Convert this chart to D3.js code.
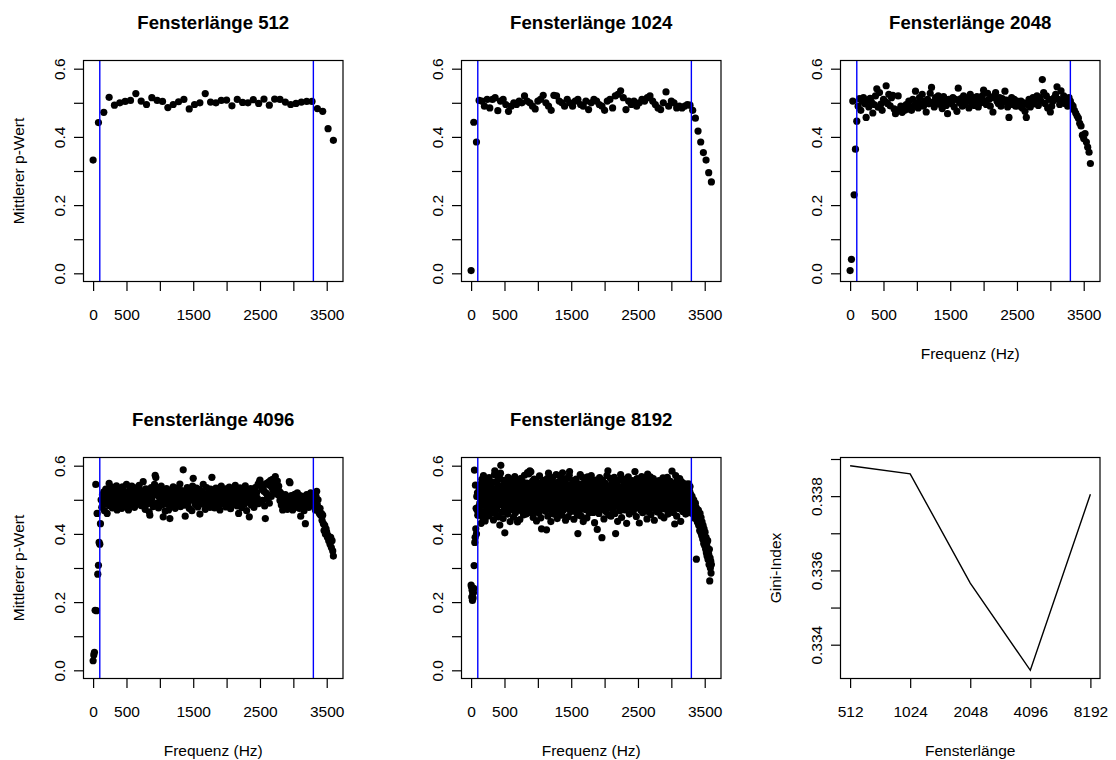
<!DOCTYPE html>
<html>
<head>
<meta charset="utf-8">
<script src="https://cdn.jsdelivr.net/npm/d3@7"></script>
<style>
  body { margin: 0; background: #fff; }
  svg { display: block; }
</style>
</head>
<body>
<svg id="chart" width="1116" height="760"></svg>
<script>
// ---- data -------------------------------------------------------------
// FFT bin k of a window of length N sits at k * sampleRate / N Hz.
const sampleRate = 40960;
const freqRange = [0, 3600];
const bandLimits = [100, 3300];           // pass band edges (Hz)
const windowLengths = [512, 1024, 2048, 4096, 8192];

// mean p-value per frequency bin
const pValues512 = [
  0.332, 0.442, 0.472, 0.516, 0.493, 0.500, 0.504, 0.507, 0.527, 0.505,
  0.495, 0.515, 0.507, 0.504, 0.486, 0.495, 0.503, 0.510, 0.482, 0.495,
  0.500, 0.527, 0.502, 0.500, 0.507, 0.508, 0.491, 0.510, 0.501, 0.500,
  0.509, 0.498, 0.511, 0.493, 0.511, 0.510, 0.502, 0.495, 0.498, 0.502,
  0.504, 0.504, 0.483, 0.475, 0.424, 0.390
];

const pValues1024 = [
  0.008, 0.443, 0.385, 0.507,
  0.505, 0.490, 0.510, 0.485, 0.510, 0.515, 0.477, 0.505, 0.510, 0.495,
  0.475, 0.490, 0.500, 0.495, 0.505, 0.500, 0.520, 0.505, 0.500, 0.490,
  0.482, 0.505, 0.510, 0.522, 0.500, 0.490, 0.478, 0.522, 0.520, 0.505,
  0.500, 0.490, 0.510, 0.500, 0.490, 0.505, 0.510, 0.495, 0.490, 0.505,
  0.480, 0.500, 0.510, 0.505, 0.495, 0.490, 0.478, 0.505, 0.510, 0.485,
  0.520, 0.525, 0.535, 0.515, 0.480, 0.505, 0.495, 0.505, 0.490, 0.500,
  0.510, 0.505, 0.515, 0.520, 0.505, 0.495, 0.485, 0.480, 0.500, 0.532,
  0.490, 0.505, 0.500, 0.485, 0.490, 0.485, 0.490, 0.495, 0.493,
  0.478, 0.455, 0.417, 0.385, 0.354, 0.332, 0.295, 0.268
];

const pValues2048 = [
  0.008, 0.041, 0.505, 0.230, 0.364, 0.446,
  0.490, 0.512, 0.478, 0.505, 0.515, 0.497, 0.457, 0.508, 0.488, 0.513,
  0.502, 0.470, 0.495, 0.520, 0.541, 0.487, 0.530, 0.496, 0.478, 0.510,
  0.505, 0.550, 0.498, 0.525, 0.491, 0.515, 0.522, 0.482, 0.468, 0.475,
  0.520, 0.480, 0.490, 0.472, 0.485, 0.478, 0.495, 0.482, 0.505, 0.488,
  0.478, 0.510, 0.492, 0.534, 0.500, 0.485, 0.515, 0.497, 0.525, 0.490,
  0.505, 0.473, 0.510, 0.497, 0.528, 0.545, 0.502, 0.488, 0.515, 0.507,
  0.520, 0.496, 0.510, 0.483, 0.518, 0.502, 0.492, 0.468, 0.510, 0.505,
  0.497, 0.515, 0.488, 0.510, 0.475, 0.543, 0.500, 0.512, 0.490, 0.520,
  0.495, 0.505, 0.510, 0.485, 0.525, 0.498, 0.515, 0.492, 0.505, 0.518,
  0.488, 0.510, 0.500, 0.520, 0.537, 0.505, 0.495, 0.528, 0.510, 0.490,
  0.515, 0.473, 0.520, 0.530, 0.505, 0.498, 0.515, 0.490, 0.512, 0.502,
  0.534, 0.508, 0.488, 0.457, 0.500, 0.515, 0.495, 0.510, 0.490, 0.505,
  0.498, 0.490, 0.505, 0.485, 0.500, 0.475, 0.457, 0.495, 0.510, 0.488,
  0.505, 0.515, 0.497, 0.510, 0.520, 0.492, 0.515, 0.505, 0.568, 0.530,
  0.498, 0.520, 0.485, 0.510, 0.473, 0.490, 0.505, 0.515, 0.525, 0.547,
  0.510, 0.495, 0.535, 0.505, 0.520, 0.498, 0.512, 0.490, 0.515,
  0.505, 0.495, 0.490, 0.478, 0.470, 0.462, 0.455, 0.440, 0.432, 0.405,
  0.395, 0.410, 0.385, 0.370, 0.355, 0.322
];

const pValues4096 = [
  0.028, 0.045, 0.053, 0.176, 0.545, 0.175, 0.460, 0.282, 0.308, 0.375, 0.370, 0.430,
  0.500, 0.478, 0.515, 0.492, 0.523, 0.468, 0.505, 0.531, 0.487, 0.460,
  0.510, 0.495, 0.548, 0.482, 0.520, 0.503, 0.537, 0.476, 0.512, 0.494,
  0.527, 0.488, 0.506, 0.541, 0.470, 0.515, 0.498, 0.532, 0.484, 0.520,
  0.500, 0.475, 0.538, 0.509, 0.490, 0.525, 0.515, 0.481, 0.545, 0.502,
  0.518, 0.470, 0.496, 0.530, 0.485, 0.512, 0.540, 0.493, 0.521, 0.505,
  0.478, 0.535, 0.500, 0.516, 0.489, 0.528, 0.507, 0.542, 0.495, 0.519,
  0.483, 0.510, 0.526, 0.553, 0.497, 0.514, 0.472, 0.532, 0.502, 0.488,
  0.524, 0.510, 0.465, 0.455, 0.493, 0.536, 0.503, 0.519, 0.480, 0.527,
  0.545, 0.572, 0.565, 0.515, 0.490, 0.531, 0.476, 0.508, 0.522, 0.494,
  0.540, 0.484, 0.513, 0.450, 0.500, 0.525, 0.467, 0.511, 0.533, 0.488,
  0.519, 0.470, 0.504, 0.445, 0.497, 0.529, 0.482, 0.515, 0.538, 0.492,
  0.510, 0.475, 0.523, 0.505, 0.487, 0.534, 0.499, 0.517, 0.546, 0.480,
  0.512, 0.527, 0.495, 0.588, 0.508, 0.484, 0.452, 0.521, 0.500, 0.536,
  0.490, 0.514, 0.475, 0.529, 0.505, 0.518, 0.468, 0.540, 0.563, 0.497,
  0.522, 0.486, 0.511, 0.534, 0.500, 0.479, 0.516, 0.530, 0.458, 0.506,
  0.488, 0.525, 0.510, 0.545, 0.492, 0.517, 0.472, 0.503, 0.536, 0.485,
  0.520, 0.497, 0.514, 0.478, 0.531, 0.505, 0.566, 0.490, 0.524, 0.508,
  0.476, 0.517, 0.534, 0.495, 0.512, 0.482, 0.528, 0.503, 0.470, 0.519,
  0.540, 0.498, 0.511, 0.487, 0.525, 0.506, 0.532, 0.479, 0.515, 0.500,
  0.523, 0.490, 0.537, 0.508, 0.474, 0.520, 0.495, 0.513, 0.529, 0.486,
  0.506, 0.542, 0.497, 0.518, 0.482, 0.527, 0.460, 0.511, 0.535, 0.493,
  0.515, 0.477, 0.530, 0.502, 0.520, 0.488, 0.541, 0.505, 0.468, 0.514,
  0.496, 0.525, 0.450, 0.509, 0.533, 0.485, 0.518, 0.500, 0.527, 0.478,
  0.512, 0.536, 0.494, 0.521, 0.505, 0.545, 0.489, 0.552, 0.558, 0.548,
  0.540, 0.530, 0.498, 0.535, 0.525, 0.482, 0.445, 0.520, 0.548, 0.505,
  0.515, 0.552, 0.490, 0.542, 0.557, 0.510, 0.535, 0.560, 0.528, 0.550,
  0.520, 0.568, 0.545, 0.530, 0.555, 0.515, 0.540, 0.525, 0.498, 0.520,
  0.485, 0.510, 0.470, 0.495, 0.505, 0.478, 0.515, 0.490, 0.500, 0.472,
  0.508, 0.485, 0.553, 0.550, 0.480, 0.512, 0.495, 0.470, 0.505, 0.488,
  0.516, 0.478, 0.500, 0.492, 0.520, 0.485, 0.507, 0.475, 0.512, 0.452,
  0.495, 0.510, 0.482, 0.502, 0.468, 0.490, 0.430, 0.505, 0.515, 0.488,
  0.500, 0.478, 0.508, 0.493, 0.520, 0.485, 0.498, 0.510, 0.490,
  0.490, 0.500, 0.470, 0.510, 0.525, 0.485, 0.500, 0.465, 0.460, 0.475,
  0.455, 0.460, 0.440, 0.455, 0.430, 0.410, 0.425, 0.400, 0.415, 0.405,
  0.390, 0.395, 0.380, 0.385, 0.370, 0.390, 0.360, 0.380, 0.350, 0.335
];

const pValues8192 = [
  0.250, 0.245, 0.215, 0.235, 0.205, 0.225, 0.212, 0.228, 0.240, 0.307,
  0.587, 0.375, 0.390, 0.543, 0.415, 0.475, 0.400, 0.510, 0.470, 0.520, 0.455,
  0.478, 0.523, 0.455, 0.510, 0.536, 0.490, 0.468, 0.545, 0.502, 0.431, 0.517, 0.560, 0.485, 0.528, 0.447, 0.505, 0.571, 0.492, 0.463, 0.532,
  0.510, 0.438, 0.548, 0.497, 0.522, 0.471, 0.556, 0.489, 0.515, 0.452, 0.538, 0.503, 0.476, 0.565, 0.494, 0.527, 0.459, 0.512, 0.544, 0.481,
  0.500, 0.535, 0.466, 0.518, 0.552, 0.487, 0.441, 0.526, 0.509, 0.574, 0.585, 0.495, 0.460, 0.531, 0.513, 0.472, 0.549, 0.504, 0.482, 0.558,
  0.519, 0.450, 0.537, 0.491, 0.565, 0.426, 0.508, 0.578, 0.601, 0.486, 0.523, 0.464, 0.541, 0.498, 0.515, 0.445, 0.530, 0.557, 0.479, 0.511,
  0.403, 0.526, 0.488, 0.547, 0.469, 0.512, 0.535, 0.493, 0.458, 0.521, 0.566, 0.501, 0.476, 0.539, 0.485, 0.552, 0.436, 0.517, 0.499, 0.528,
  0.470, 0.543, 0.506, 0.482, 0.561, 0.515, 0.449, 0.533, 0.490, 0.524, 0.568, 0.497, 0.462, 0.514, 0.548, 0.478, 0.507, 0.540, 0.435, 0.520,
  0.495, 0.558, 0.473, 0.530, 0.509, 0.442, 0.546, 0.487, 0.522, 0.563, 0.500, 0.467, 0.536, 0.481, 0.518, 0.551, 0.456, 0.527, 0.494, 0.572,
  0.512, 0.478, 0.539, 0.503, 0.458, 0.524, 0.549, 0.486, 0.580, 0.514, 0.470, 0.532, 0.576, 0.497, 0.541, 0.585, 0.463, 0.520, 0.582, 0.506,
  0.535, 0.476, 0.513, 0.555, 0.489, 0.448, 0.527, 0.502, 0.561, 0.483, 0.518, 0.466, 0.544, 0.497, 0.530, 0.438, 0.511, 0.552, 0.479, 0.525,
  0.492, 0.538, 0.461, 0.516, 0.570, 0.485, 0.529, 0.503, 0.447, 0.545, 0.415, 0.520, 0.496, 0.534, 0.474, 0.557, 0.508, 0.482, 0.540, 0.499,
  0.523, 0.467, 0.549, 0.510, 0.487, 0.412, 0.531, 0.562, 0.495, 0.452, 0.517, 0.578, 0.484, 0.526, 0.500, 0.543, 0.471, 0.515, 0.436, 0.532,
  0.506, 0.550, 0.479, 0.521, 0.565, 0.493, 0.458, 0.537, 0.512, 0.483, 0.548, 0.502, 0.469, 0.529, 0.574, 0.489, 0.516, 0.445, 0.540, 0.498,
  0.527, 0.475, 0.553, 0.508, 0.461, 0.533, 0.493, 0.568, 0.518, 0.480, 0.542, 0.455, 0.514, 0.579, 0.497, 0.525, 0.470, 0.536, 0.504, 0.559,
  0.486, 0.521, 0.440, 0.547, 0.509, 0.476, 0.532, 0.563, 0.495, 0.518, 0.451, 0.539, 0.503, 0.572, 0.583, 0.488, 0.524, 0.466, 0.511, 0.545,
  0.497, 0.535, 0.472, 0.519, 0.556, 0.483, 0.528, 0.443, 0.506, 0.549, 0.490, 0.532, 0.465, 0.514, 0.561, 0.501, 0.477, 0.538, 0.455, 0.401,
  0.522, 0.489, 0.546, 0.507, 0.468, 0.531, 0.574, 0.496, 0.517, 0.452, 0.540, 0.483, 0.525, 0.566, 0.500, 0.436, 0.513, 0.548, 0.479, 0.528,
  0.493, 0.555, 0.471, 0.519, 0.538, 0.486, 0.447, 0.532, 0.567, 0.504, 0.478, 0.523, 0.550, 0.462, 0.515, 0.497, 0.541, 0.485, 0.527, 0.571,
  0.508, 0.475, 0.536, 0.491, 0.555, 0.463, 0.520, 0.543, 0.482, 0.433, 0.511, 0.558, 0.495, 0.529, 0.469, 0.546, 0.502, 0.413, 0.524, 0.488,
  0.539, 0.498, 0.460, 0.527, 0.565, 0.484, 0.517, 0.549, 0.476, 0.505, 0.530, 0.389, 0.494, 0.558, 0.472, 0.521, 0.506, 0.444, 0.537, 0.511,
  0.482, 0.548, 0.519, 0.466, 0.534, 0.500, 0.571, 0.488, 0.525, 0.585, 0.493, 0.456, 0.541, 0.512, 0.477, 0.529, 0.563, 0.497, 0.452, 0.518,
  0.535, 0.490, 0.553, 0.471, 0.508, 0.544, 0.483, 0.522, 0.566, 0.497, 0.460, 0.531, 0.401, 0.514, 0.548, 0.486, 0.527, 0.505, 0.437, 0.539,
  0.495, 0.557, 0.478, 0.521, 0.503, 0.468, 0.536, 0.574, 0.490, 0.515, 0.448, 0.529, 0.559, 0.484, 0.510, 0.542, 0.475, 0.523, 0.498, 0.561,
  0.512, 0.470, 0.538, 0.494, 0.551, 0.431, 0.519, 0.487, 0.546, 0.505, 0.567, 0.479, 0.526, 0.458, 0.533, 0.501, 0.549, 0.488, 0.515, 0.542,
  0.473, 0.520, 0.556, 0.497, 0.534, 0.465, 0.511, 0.544, 0.485, 0.529, 0.583, 0.502, 0.476, 0.538, 0.451, 0.518, 0.562, 0.491, 0.525, 0.507,
  0.544, 0.481, 0.516, 0.432, 0.535, 0.498, 0.553, 0.470, 0.523, 0.509, 0.568, 0.487, 0.530, 0.462, 0.513, 0.547, 0.495, 0.526, 0.478, 0.540,
  0.503, 0.558, 0.472, 0.519, 0.537, 0.489, 0.444, 0.527, 0.575, 0.500, 0.466, 0.533, 0.514, 0.552, 0.482, 0.521, 0.567, 0.494, 0.457, 0.530,
  0.510, 0.545, 0.477, 0.524, 0.498, 0.562, 0.486, 0.517, 0.440, 0.539, 0.505, 0.553, 0.473, 0.528, 0.493, 0.547, 0.512, 0.464, 0.535, 0.500,
  0.522, 0.484, 0.556, 0.509, 0.470, 0.531, 0.496, 0.548, 0.453, 0.518, 0.540, 0.488, 0.527, 0.505, 0.564, 0.479, 0.515, 0.447, 0.536, 0.501,
  0.527, 0.473, 0.551, 0.492, 0.519, 0.537, 0.482, 0.566, 0.508, 0.458, 0.532, 0.497, 0.545, 0.476, 0.521, 0.503, 0.554, 0.469, 0.539, 0.511,
  0.487, 0.584, 0.523, 0.499, 0.548, 0.463, 0.516, 0.535, 0.478, 0.429, 0.542, 0.506, 0.571, 0.490, 0.527, 0.452, 0.514, 0.559, 0.485, 0.532,
  0.500, 0.545, 0.474, 0.518, 0.562, 0.491, 0.527, 0.437, 0.509, 0.553, 0.482, 0.536, 0.496, 0.466, 0.524, 0.548, 0.503, 0.471, 0.541, 0.515,
  0.488, 0.532, 0.458, 0.519, 0.546, 0.497, 0.538, 0.475, 0.512, 0.529, 0.483, 0.547, 0.501, 0.462, 0.525, 0.539, 0.493, 0.516, 0.508,
  0.505, 0.470, 0.510, 0.485, 0.460, 0.495, 0.475, 0.500, 0.455, 0.488, 0.470, 0.445, 0.490, 0.460, 0.478, 0.326, 0.450, 0.472, 0.435, 0.465,
  0.445, 0.470, 0.425, 0.455, 0.440, 0.410, 0.460, 0.430, 0.405, 0.448, 0.420, 0.395, 0.435, 0.410, 0.385, 0.425, 0.400, 0.372, 0.415, 0.390,
  0.365, 0.405, 0.380, 0.355, 0.390, 0.345, 0.372, 0.335, 0.360, 0.380, 0.325, 0.350, 0.340, 0.310, 0.355, 0.262, 0.330, 0.300, 0.320, 0.285, 0.310
];

// Gini index of the mean p-values per window length
const giniIndex = [0.33882, 0.33860, 0.33566, 0.33331, 0.33805];

// axis ticks
const pRange = [0, 0.6];
const pTicks = [0, 0.1, 0.2, 0.3, 0.4, 0.5, 0.6];
const pTickLabels = [0, 0.2, 0.4, 0.6];
const freqTicks = [0, 500, 1000, 1500, 2000, 2500, 3000, 3500];
const freqTickLabels = [0, 500, 1500, 2500, 3500];
const giniTicks = [0.334, 0.335, 0.336, 0.337, 0.338, 0.339];
const giniTickLabels = [0.334, 0.336, 0.338];

// ---- layout -----------------------------------------------------------
const FONT = '"Liberation Sans", Arial, Helvetica, sans-serif';
const FS = 15.5;            // axis text
const FS_TITLE = 18.6;      // panel titles
const boxLeft = [83.5, 461.5, 840.5];
const boxTop = [60.5, 457.5];
const boxW = 259.5, boxH = 221;
const TICK = 9.5;
const DOT_R = 3.6;

const svg = d3.select("#chart");

function frame(col, row) {
  const x0 = boxLeft[col], y0 = boxTop[row];
  return { x0, y0, x1: x0 + boxW, y1: y0 + boxH };
}
// default 4% range extension on both sides
function extend([a, b]) {
  const r = (b - a) * 0.04;
  return [a - r, b + r];
}

function styleAxis(sel) {
  sel.attr("font-family", FONT).attr("font-size", FS);
  sel.select(".domain").remove();
  sel.selectAll(".tick line").attr("stroke", "#000").attr("stroke-width", 1.2);
  sel.selectAll(".tick text").attr("fill", "#000");
}

function drawBottomAxis(g, f, scale, ticks, fmt) {
  g.append("g")
    .attr("transform", `translate(0,${f.y1})`)
    .call(d3.axisBottom(scale).tickValues(ticks).tickSize(TICK).tickPadding(17.5).tickFormat(fmt))
    .call(styleAxis);
}

function drawLeftAxis(g, f, scale, ticks, fmt) {
  g.append("g")
    .attr("transform", `translate(${f.x0},0)`)
    .call(d3.axisLeft(scale).tickValues(ticks).tickSize(TICK).tickFormat(fmt))
    .call(styleAxis)
    .call(a => a.selectAll(".tick text")
      .attr("x", null).attr("dy", null)
      .attr("text-anchor", "middle")
      .attr("transform", "translate(-19,0) rotate(-90)"));
}

function drawFrame(g, f, title, xTitle, yTitle) {
  g.append("rect")
    .attr("x", f.x0).attr("y", f.y0)
    .attr("width", f.x1 - f.x0).attr("height", f.y1 - f.y0)
    .attr("fill", "none").attr("stroke", "#000").attr("stroke-width", 1.2);
  const cx = (f.x0 + f.x1) / 2, cy = (f.y0 + f.y1) / 2;
  g.append("text")
    .attr("x", cx).attr("y", f.y0 - 32)
    .attr("text-anchor", "middle")
    .attr("font-family", FONT).attr("font-size", FS_TITLE).attr("font-weight", "bold")
    .text(title);
  if (xTitle) {
    g.append("text")
      .attr("x", cx).attr("y", f.y1 + 77)
      .attr("text-anchor", "middle")
      .attr("font-family", FONT).attr("font-size", FS)
      .text(xTitle);
  }
  if (yTitle) {
    g.append("text")
      .attr("transform", `translate(${f.x0 - 59.5},${cy}) rotate(-90)`)
      .attr("text-anchor", "middle")
      .attr("font-family", FONT).attr("font-size", FS)
      .text(yTitle);
  }
}

// ---- p-value scatter panels --------------------------------------------
const pPanels = [
  { N: 512,  values: pValues512,  col: 0, row: 0, xTitle: null, yTitle: "Mittlerer p-Wert" },
  { N: 1024, values: pValues1024, col: 1, row: 0, xTitle: null, yTitle: null },
  { N: 2048, values: pValues2048, col: 2, row: 0, xTitle: "Frequenz (Hz)", yTitle: null },
  { N: 4096, values: pValues4096, col: 0, row: 1, xTitle: "Frequenz (Hz)", yTitle: "Mittlerer p-Wert" },
  { N: 8192, values: pValues8192, col: 1, row: 1, xTitle: "Frequenz (Hz)", yTitle: null }
];

const fmtP = d => pTickLabels.includes(d) ? d3.format(".1f")(d) : "";
const fmtF = d => freqTickLabels.includes(d) ? String(d) : "";

pPanels.forEach(p => {
  const f = frame(p.col, p.row);
  const x = d3.scaleLinear().domain(extend(freqRange)).range([f.x0, f.x1]);
  const y = d3.scaleLinear().domain(extend(pRange)).range([f.y1, f.y0]);
  const g = svg.append("g");

  g.append("g").selectAll("circle")
    .data(p.values)
    .join("circle")
    .attr("cx", (d, i) => x(i * sampleRate / p.N))
    .attr("cy", d => y(d))
    .attr("r", DOT_R)
    .attr("fill", "#000");

  g.append("g").selectAll("line")
    .data(bandLimits)
    .join("line")
    .attr("x1", d => x(d)).attr("x2", d => x(d))
    .attr("y1", f.y0).attr("y2", f.y1)
    .attr("stroke", "#0000ff").attr("stroke-width", 1.4);

  drawFrame(g, f, `Fensterlänge ${p.N}`, p.xTitle, p.yTitle);
  drawBottomAxis(g, f, x, freqTicks, fmtF);
  drawLeftAxis(g, f, y, pTicks, fmtP);
});

// ---- Gini index line panel ----------------------------------------------
{
  const f = frame(2, 1);
  const x = d3.scalePoint().domain(windowLengths).range([f.x0, f.x1]).padding(0.16);
  const y = d3.scaleLinear().domain(extend(d3.extent(giniIndex))).range([f.y1, f.y0]);
  const g = svg.append("g");
  const rows = windowLengths.map((w, i) => ({ w, gini: giniIndex[i] }));

  g.append("path")
    .datum(rows)
    .attr("d", d3.line().x(d => x(d.w)).y(d => y(d.gini)))
    .attr("fill", "none").attr("stroke", "#000").attr("stroke-width", 1.4);

  drawFrame(g, f, "", "Fensterlänge", "Gini-Index");
  drawBottomAxis(g, f, x, windowLengths, d => String(d));
  drawLeftAxis(g, f, y, giniTicks, d => giniTickLabels.includes(d) ? d3.format(".3f")(d) : "");
}
</script>
</body>
</html>
